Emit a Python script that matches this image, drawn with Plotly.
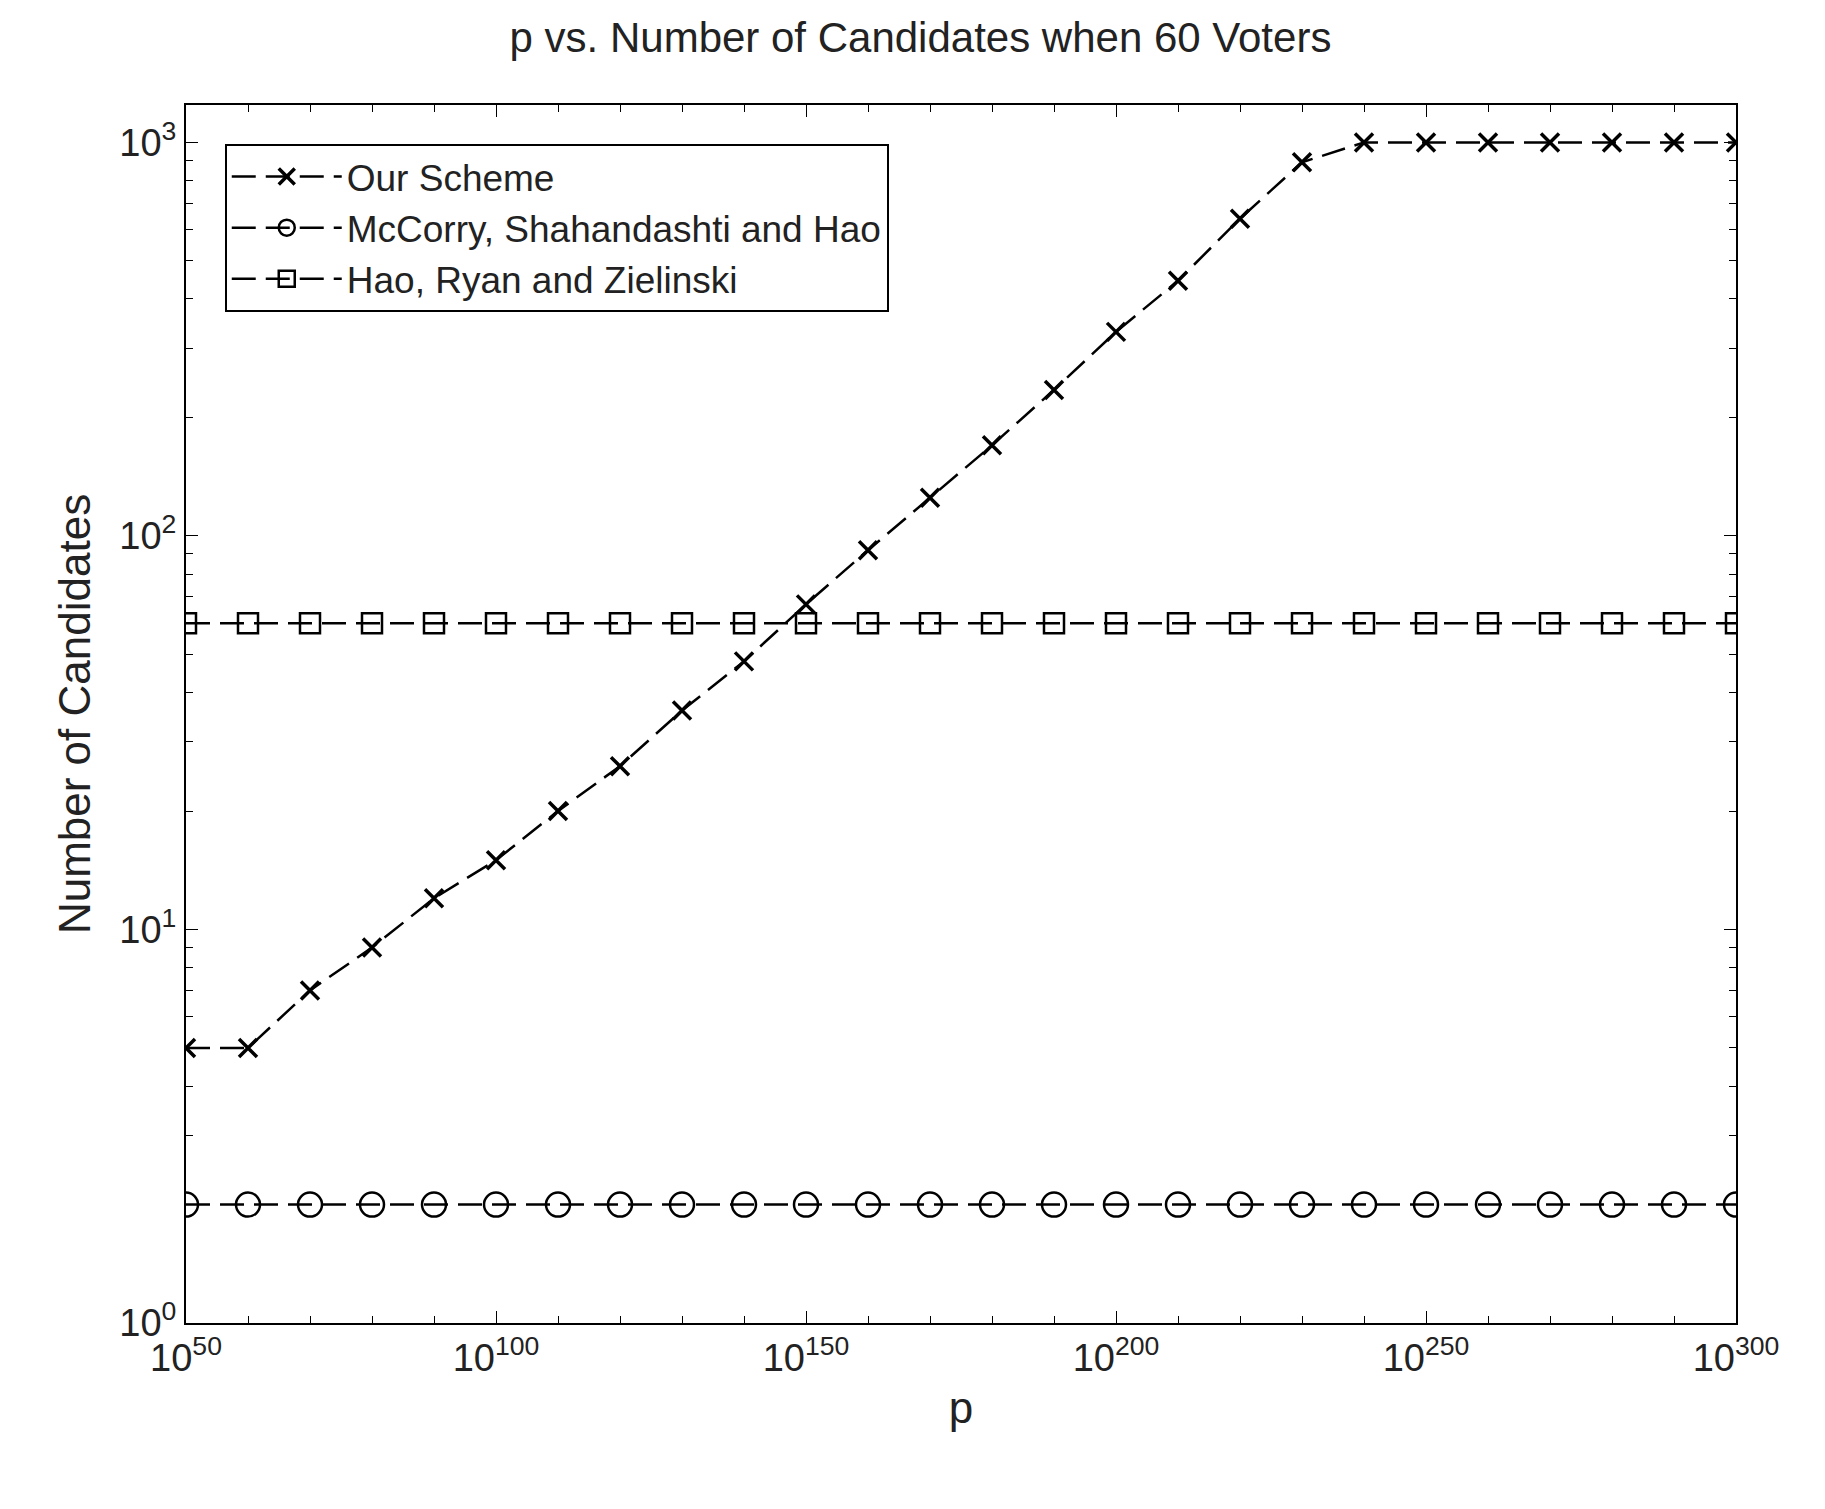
import plotly.graph_objects as go

p_exp = list(range(50, 301, 10))
ours = [5, 5, 7, 9, 12, 15, 20, 26, 36, 48, 67, 92, 125, 170, 235, 330, 445, 640, 890,
        1000, 1000, 1000, 1000, 1000, 1000, 1000]
msh = [2] * 26
hrz = [60] * 26
xtick_vals = [50, 100, 150, 200, 250, 300]
xtick_text = ["10<sup>%d</sup>" % v for v in xtick_vals]
y_minor = [m * 10 ** d for d in range(0, 3) for m in range(2, 10)]

fig = go.Figure()
common = dict(mode="lines+markers", line=dict(color="black", width=2.5, dash="24px,10px"))
fig.add_trace(go.Scatter(x=p_exp, y=ours, name="Our Scheme",
                         marker=dict(symbol="x-thin", size=18, line=dict(color="black", width=3.5)), **common))
fig.add_trace(go.Scatter(x=p_exp, y=msh, name="McCorry, Shahandashti and Hao",
                         marker=dict(symbol="circle-open", size=24, color="black", line=dict(width=2.5)), **common))
fig.add_trace(go.Scatter(x=p_exp, y=hrz, name="Hao, Ryan and Zielinski",
                         marker=dict(symbol="square-open", size=20, color="black", line=dict(width=2.5)), **common))

fnt = dict(family="Liberation Sans, Arial", color="#222", size=38)
fig.update_layout(
    width=1825, height=1509, paper_bgcolor="white", plot_bgcolor="white",
    font=fnt,
    title=dict(text="p vs. Number of Candidates when 60 Voters", x=0.5, xanchor="center",
               y=0.99, yanchor="top", font=dict(size=42)),
    margin=dict(l=178, r=97, t=97, b=194),
    showlegend=True,
    legend=dict(x=0.025, y=0.968, xanchor="left", yanchor="top", bgcolor="white",
                bordercolor="black", borderwidth=2, font=dict(size=37), itemwidth=110,
                tracegroupgap=4),
    xaxis=dict(range=[50, 300], tickvals=xtick_vals, ticktext=xtick_text, title=dict(text="p", font=dict(size=44)),
               showgrid=False, zeroline=False, showline=True, mirror="ticks", linecolor="black", linewidth=2,
               ticks="inside", ticklen=12, tickcolor="black", tickfont=dict(size=38),
               minor=dict(tickvals=list(range(60, 300, 10)), ticks="inside", ticklen=7, tickcolor="black")),
    yaxis=dict(type="log", range=[0, 3.095], tickvals=[1, 10, 100, 1000],
               ticktext=["10<sup>0</sup>", "10<sup>1</sup>", "10<sup>2</sup>", "10<sup>3</sup>"],
               title=dict(text="Number of Candidates", font=dict(size=44)),
               showgrid=False, zeroline=False, showline=True, mirror="ticks", linecolor="black", linewidth=2,
               ticks="inside", ticklen=12, tickcolor="black", tickfont=dict(size=38),
               minor=dict(tickvals=y_minor, ticks="inside", ticklen=7, tickcolor="black", showgrid=False)),
)
fig.write_html("out.html")
